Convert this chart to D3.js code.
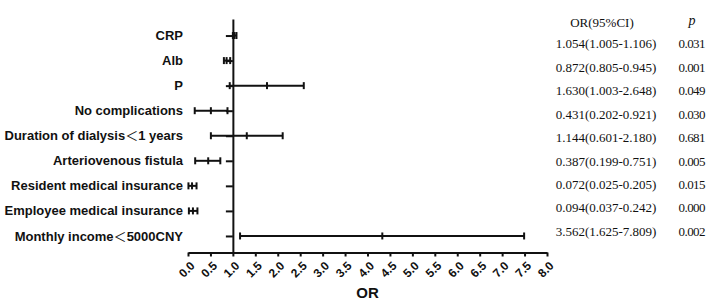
<!DOCTYPE html>
<html>
<head>
<meta charset="utf-8">
<script src="https://cdn.jsdelivr.net/npm/d3@7/dist/d3.min.js"></script>
<style>
  body { margin: 0; background: #fff; }
  #chart { width: 708px; height: 300px; }
</style>
</head>
<body>
<div id="chart"></div>
<script>
// rows, top to bottom
const rowNames = ['CRP', 'Alb', 'P', 'No complications', 'Duration of dialysis＜1 years',
  'Arteriovenous fistula', 'Resident medical insurance', 'Employee medical insurance', 'Monthly income＜5000CNY'];
// marks as plotted in the figure (lower / middle / upper)
const lowValues = [1.00, 0.80, 0.93, 0.15, 0.51, 0.16, 0.01, 0.02, 1.16];
const midValues = [1.035, 0.86, 1.76, 0.51, 1.31, 0.45, 0.09, 0.11, 4.33];
const highValues = [1.08, 0.94, 2.58, 0.88, 2.11, 0.72, 0.19, 0.21, 7.49];
// table on the right
const orTexts = ['1.054(1.005-1.106)', '0.872(0.805-0.945)', '1.630(1.003-2.648)', '0.431(0.202-0.921)',
  '1.144(0.601-2.180)', '0.387(0.199-0.751)', '0.072(0.025-0.205)', '0.094(0.037-0.242)', '3.562(1.625-7.809)'];
const pTexts = ['0.031', '0.001', '0.049', '0.030', '0.681', '0.005', '0.015', '0.000', '0.002'];
const xTickValues = [0, 0.5, 1, 1.5, 2, 2.5, 3, 3.5, 4, 4.5, 5, 5.5, 6, 6.5, 7, 7.5, 8];

class OddsRatioChart {
  defaultOption() {
    return {
      width: 708,
      height: 300,
      xRange: [188, 547],
      yRange: [19, 252.5],
      refValue: 1,
      color: '#111',
      labelFont: '"Liberation Sans", Arial, sans-serif',
      tableFont: '"Liberation Serif", "Times New Roman", serif'
    };
  }

  constructor(selector, option) {
    this.selector = selector;
    this.config = Object.assign(this.defaultOption(), option || {});
    const { width, height } = this.config;
    this.svg = d3.select(selector).append('svg').attr('width', width).attr('height', height);
  }

  draw() {
    const { xRange, yRange } = this.config;
    this.x = d3.scaleLinear().domain([0, 8]).range(xRange);
    this.y = d3.scalePoint().domain(rowNames).range(yRange).padding(0.66);
    this.drawAxes();
    this.drawLabels();
    this.drawBars();
    this.drawTable();
  }

  drawAxes() {
    const { color, labelFont, refValue, yRange } = this.config;
    const x = this.x, y = this.y;

    // x axis with slanted tick labels
    const xAxis = this.svg.append('g')
      .attr('transform', `translate(0,${yRange[1]})`)
      .call(d3.axisBottom(x).tickValues(xTickValues).tickSize(4).tickSizeOuter(0).tickFormat(d3.format('.1f')));
    xAxis.select('.domain').attr('stroke', color).attr('stroke-width', 2);
    xAxis.selectAll('.tick line').attr('stroke', color).attr('stroke-width', 2);
    xAxis.selectAll('.tick text')
      .attr('fill', color)
      .attr('font-family', labelFont)
      .attr('font-weight', 'bold')
      .attr('font-size', '12px')
      .attr('text-anchor', 'end')
      .attr('x', 0).attr('y', 0).attr('dy', '0.35em')
      .attr('transform', 'translate(4,11) rotate(-45)');

    this.svg.append('text')
      .attr('x', (x.range()[0] + x.range()[1]) / 2)
      .attr('y', 298)
      .attr('text-anchor', 'middle')
      .attr('font-family', labelFont)
      .attr('font-weight', 'bold')
      .attr('font-size', '15px')
      .attr('fill', color)
      .text('OR');

    // vertical reference axis at OR = 1
    const yAxis = this.svg.append('g')
      .attr('transform', `translate(${x(refValue)},0)`)
      .call(d3.axisLeft(y).tickSize(7).tickSizeOuter(0).tickFormat(''));
    yAxis.select('.domain').attr('stroke', color).attr('stroke-width', 2);
    yAxis.selectAll('.tick line').attr('stroke', color).attr('stroke-width', 2);
  }

  drawLabels() {
    const { color, labelFont } = this.config;
    const y = this.y;
    const labels = this.svg.append('g').selectAll('text')
      .data(rowNames)
      .enter()
      .append('text')
      .attr('x', 183)
      .attr('y', d => y(d))
      .attr('dy', '0.35em')
      .attr('text-anchor', 'end')
      .attr('font-family', labelFont)
      .attr('font-weight', 'bold')
      .attr('font-size', '13px')
      .attr('fill', color);

    // split on the full-width sign so it can use a CJK font
    labels.each(function (d) {
      const parts = d.split('＜');
      const t = d3.select(this);
      t.append('tspan').text(parts[0]);
      if (parts.length > 1) {
        t.append('tspan')
          .attr('font-family', '"Noto Sans CJK SC", sans-serif')
          .attr('font-weight', 'normal')
          .text('＜');
        t.append('tspan').text(parts[1]);
      }
    });
  }

  drawBars() {
    const { color } = this.config;
    const x = this.x, y = this.y;
    const rows = rowNames.map((name, i) => ({ name, lo: lowValues[i], mid: midValues[i], hi: highValues[i] }));

    const g = this.svg.append('g').attr('stroke', color).attr('stroke-width', 2);
    const items = g.selectAll('.orItem')
      .data(rows)
      .enter()
      .append('g')
      .attr('class', 'orItem')
      .attr('transform', d => `translate(0,${y(d.name)})`);

    items.append('line')
      .attr('x1', d => x(d.lo))
      .attr('x2', d => x(d.hi));

    ['lo', 'mid', 'hi'].forEach(key => {
      items.append('line')
        .attr('x1', d => x(d[key]))
        .attr('x2', d => x(d[key]))
        .attr('y1', -3.5)
        .attr('y2', 3.5);
    });
  }

  drawTable() {
    const { color, tableFont } = this.config;
    const rowY = d3.scalePoint().domain(rowNames).range([44.3, 231.7]);
    const table = this.svg.append('g')
      .attr('font-family', tableFont)
      .attr('font-size', '13px')
      .attr('fill', color)
      .attr('text-anchor', 'middle');

    table.append('text').attr('x', 602).attr('y', 23.3).attr('dy', '0.32em').text('OR(95%CI)');
    table.append('text').attr('x', 692).attr('y', 21).attr('dy', '0.32em')
      .attr('font-style', 'italic').attr('font-size', '14px').text('p');

    table.selectAll('.orText')
      .data(orTexts)
      .enter()
      .append('text')
      .attr('class', 'orText')
      .attr('x', 606)
      .attr('y', (d, i) => rowY(rowNames[i]))
      .attr('dy', '0.32em')
      .text(d => d);

    table.selectAll('.pText')
      .data(pTexts)
      .enter()
      .append('text')
      .attr('class', 'pText')
      .attr('x', 692)
      .attr('y', (d, i) => rowY(rowNames[i]))
      .attr('dy', '0.32em')
      .attr('textLength', 27)
      .text(d => d);
  }
}

const chart = new OddsRatioChart('#chart');
chart.draw();
</script>
</body>
</html>
